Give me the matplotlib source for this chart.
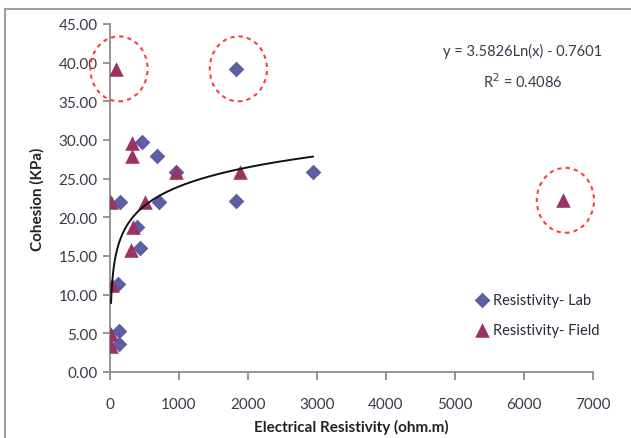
import numpy as np
import matplotlib
matplotlib.use("Agg")
import matplotlib.pyplot as plt
from matplotlib.patches import Ellipse
from matplotlib.lines import Line2D

plt.rcParams['font.family'] = ['Lato', 'DejaVu Sans']

# lab resistivity (ohm.m) vs cohesion (KPa)
labRes = [1820, 470, 680, 960, 2940, 1830, 710, 140, 390, 430, 120, 130, 125]
labCoh = [39.2, 29.7, 27.9, 25.8, 25.8, 22.1, 22.0, 22.0, 18.8, 16.0, 11.4, 5.3, 3.6]

# field resistivity (ohm.m) vs cohesion (KPa)
fieldRes = [90, 320, 320, 960, 1890, 20, 500, 330, 300, 30, 20, 20, 6560]
fieldCoh = [39.2, 29.6, 27.9, 25.8, 25.8, 22.0, 22.0, 18.8, 15.8, 11.2, 4.9, 3.4, 22.2]

# outliers circled in the figure (series, index)
outliers = [("field", 0), ("lab", 0), ("field", 12)]

trendA = 3.5826
trendB = -0.7601
trendRange = (15, 2940)

xTicks = [0, 1000, 2000, 3000, 4000, 5000, 6000, 7000]
yTicks = [0, 5, 10, 15, 20, 25, 30, 35, 40, 45]

LAB_COLOR = '#5d5fa3'
FIELD_COLOR = '#993366'
AXIS_GRAY = '#8c8c8c'
TEXT_COLOR = '#3a3a4a'

fig = plt.figure(figsize=(6.31, 4.39), dpi=100)
ax = fig.add_axes([110 / 631, 1 - 373 / 439, 483 / 631, 348 / 439])

ax.scatter(labRes, labCoh, marker='D', s=64, color=LAB_COLOR, linewidths=0, zorder=3,
           label='Resistivity- Lab')
ax.scatter(fieldRes, fieldCoh, marker='^', s=110, color=FIELD_COLOR, linewidths=0, zorder=4,
           label='Resistivity- Field')

trendX = np.linspace(trendRange[0], trendRange[1], 400)
trendY = trendA * np.log(trendX) + trendB
ax.plot(trendX, trendY, color='#111111', lw=1.4, zorder=5)

series = {"lab": (labRes, labCoh), "field": (fieldRes, fieldCoh)}
for name, idx in outliers:
    xs, ys = series[name]
    ax.add_patch(Ellipse((xs[idx] + 40, ys[idx]), width=830, height=8.4, fill=False,
                         edgecolor='#ff3b3b', lw=1.5, linestyle=(0, (2, 2)), zorder=6,
                         clip_on=False))

ax.set_xlim(0, 7000)
ax.set_ylim(0, 45)
ax.set_xticks(xTicks)
ax.set_yticks(yTicks)
ax.set_yticklabels(['%.2f' % v for v in yTicks])

for side in ('top', 'right'):
    ax.spines[side].set_visible(False)
for side in ('left', 'bottom'):
    ax.spines[side].set_color(AXIS_GRAY)
    ax.spines[side].set_linewidth(1.3)
ax.tick_params(axis='x', direction='out', length=6, width=1.3, color=AXIS_GRAY,
               pad=12, labelsize=11, labelcolor=TEXT_COLOR)
ax.tick_params(axis='y', direction='out', length=5, width=1.3, color=AXIS_GRAY,
               pad=4, labelsize=11, labelcolor=TEXT_COLOR)

ax.set_xlabel('Electrical Resistivity (ohm.m)', fontsize=11, fontweight='bold',
              color='#222222', labelpad=6)
ax.set_ylabel('Cohesion (KPa)', fontsize=11, fontweight='bold', color='#222222',
              labelpad=10)

ax.text(0.855, 0.878, 'y = 3.5826Ln(x) - 0.7601\nR$^2$ = 0.4086', transform=ax.transAxes,
        ha='center', va='center', fontsize=10.5, color=TEXT_COLOR, linespacing=1.8)

leg = ax.legend(loc='center left', bbox_to_anchor=(0.757, 0.165), frameon=False,
                fontsize=10.5, handlelength=0.9, handletextpad=0.3, labelspacing=1.1,
                borderpad=0, borderaxespad=0, scatterpoints=1)
for t in leg.get_texts():
    t.set_color('#2a2a3a')

# outer chart border (only top and left edges visible in the crop)
fig.add_artist(Line2D([5 / 631, 5 / 631], [0, 1 - 10 / 439], transform=fig.transFigure,
                      color='#a0a0a0', lw=1.5))
fig.add_artist(Line2D([5 / 631, 1], [1 - 10 / 439, 1 - 10 / 439], transform=fig.transFigure,
                      color='#a0a0a0', lw=1.5))

fig.savefig('out.png', dpi=100)
